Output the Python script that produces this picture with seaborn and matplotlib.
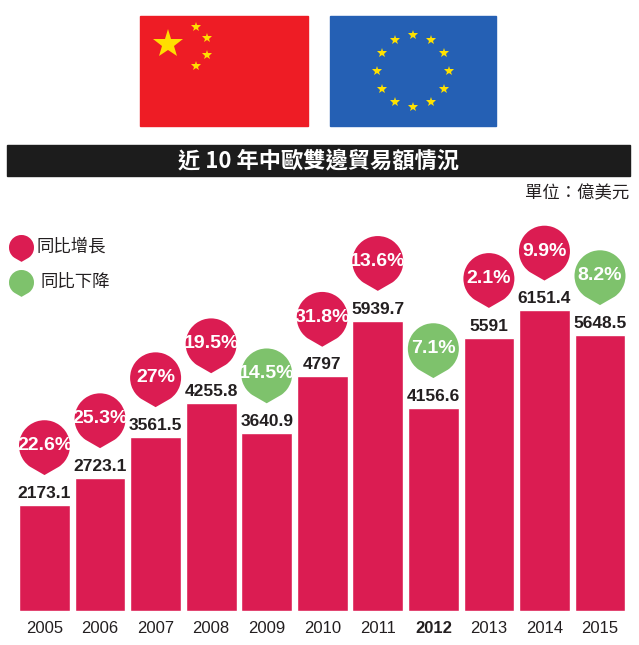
import numpy as np
import matplotlib
matplotlib.use("Agg")
import matplotlib.pyplot as plt
import seaborn as sns
import pandas as pd
from matplotlib.path import Path
from matplotlib.patches import Rectangle

# 資料
years = ["2005", "2006", "2007", "2008", "2009", "2010",
         "2011", "2012", "2013", "2014", "2015"]
trade = [2173.1, 2723.1, 3561.5, 4255.8, 3640.9, 4797,
         5939.7, 4156.6, 5591, 6151.4, 5648.5]
growth = [22.6, 25.3, 27, 19.5, -14.5, 31.8, 13.6, -7.1, 2.1, 9.9, -8.2]

title = "近 10 年中歐雙邊貿易額情況"
unit = "單位：億美元"
legend_labels = ["同比增長", "同比下降"]

RED = "#DB1C52"
GREEN = "#7EC26C"
DARK = "#231F20"

sns.set_style("white")
plt.rcParams["font.family"] = ["Liberation Sans", "Noto Sans CJK TC", "DejaVu Sans"]
CJK = ["Noto Sans CJK TC", "DejaVu Sans"]

W, H = 639, 645
fig = plt.figure(figsize=(W / 100, H / 100), dpi=100)

# 背景層：國旗、標題、圖例（像素座標）
bg = fig.add_axes([0, 0, 1, 1])
bg.set_xlim(0, W)
bg.set_ylim(H, 0)
bg.axis("off")

# 中國國旗
fx, fy, fw, fh = 140, 16, 168, 110
bg.add_patch(Rectangle((fx, fy), fw, fh, color="#EE1C25"))
u = fh / 20
bg.plot(fx + 5 * u * 1.02, fy + 5 * u, marker="*", color="#FFDE00",
        markersize=22, markeredgewidth=0)
for sx, sy in [(10, 2), (12, 4), (12, 7), (10, 9)]:
    bg.plot(fx + sx * u * 1.02, fy + sy * u, marker="*", color="#FFDE00",
            markersize=7.5, markeredgewidth=0)

# 歐盟旗
ex, ey, ew, eh = 330, 16, 166, 110
bg.add_patch(Rectangle((ex, ey), ew, eh, color="#2560B4"))
cx, cy = ex + ew / 2, ey + eh / 2
for k in range(12):
    a = np.pi / 2 - k * np.pi / 6
    bg.plot(cx + 36 * np.cos(a), cy - 36 * np.sin(a), marker="*",
            color="#FFE100", markersize=7.5, markeredgewidth=0)

# 標題條
bg.add_patch(Rectangle((7, 145), 623, 31, color="#1C1C1C"))
bg.text(319, 161, title, color="white", fontsize=16, fontweight="bold",
        ha="center", va="center", family=CJK)
bg.text(629, 193, unit, color=DARK, fontsize=12.5, ha="right", va="center",
        family=CJK)

# 水滴形標記
tip = 1.15
arc = Path.arc(-55, 235)
verts = np.vstack([arc.vertices, [[0, -tip], [0, -tip]]])
codes = np.concatenate([arc.codes, [Path.LINETO, Path.CLOSEPOLY]])
pin = Path(verts, codes)

def pin_size(radius_px):
    return (radius_px * 0.72 * 2 * tip) ** 2

# 圖例
for (lab, col, ly, lx) in [(legend_labels[0], RED, 247, 37),
                            (legend_labels[1], GREEN, 282, 40)]:
    bg.scatter([20.5], [ly], marker=pin, s=pin_size(12.5), color=col,
               linewidths=0)
    bg.text(lx, ly, lab, fontsize=12.5, color=DARK, va="center", family=CJK)

# 主圖：柱狀圖
base_px = 611
top_px = 200
ppu = 0.0489   # 每單位像素
ax = fig.add_axes([0, (H - base_px) / H, 1, (base_px - top_px) / H])
ax.patch.set_alpha(0)

df = pd.DataFrame({"year": years, "trade": trade, "growth": growth})
df["trend"] = np.where(df["growth"] >= 0, "up", "down")

sns.barplot(data=df, x="year", y="trade", color=RED, saturation=1,
            width=0.913, ax=ax)

pitch = 55.55
ax.set_xlim(-44.5 / pitch, (W - 44.5) / pitch)
ax.set_ylim(0, (base_px - top_px) / ppu)

# 數值標籤
for i, v in enumerate(df["trade"]):
    ax.annotate(f"{v:g}", (i, v), xytext=(0, 4), textcoords="offset pixels",
                ha="center", va="bottom", fontsize=12.5, fontweight="bold",
                color=DARK)

# 同比變化標記
df["pin_y"] = df["trade"] + 59 / ppu
sns.scatterplot(data=df, x=np.arange(len(df)), y="pin_y", hue="trend",
                palette={"up": RED, "down": GREEN}, marker=pin,
                s=pin_size(25.5), linewidth=0, legend=False, ax=ax)
for i, (g, py) in enumerate(zip(df["growth"], df["pin_y"])):
    ax.text(i, py, f"{abs(g):g}%", color="white", fontsize=14,
            fontweight="bold", ha="center", va="center")

ax.set_xlabel("")
ax.set_ylabel("")
ax.set_yticks([])
sns.despine(ax=ax, left=True, bottom=True)
ax.tick_params(axis="x", length=0, pad=7, labelsize=12, labelcolor=DARK)
for t in ax.get_xticklabels():
    if t.get_text() == "2012":
        t.set_fontweight("bold")

fig.savefig("out.png", dpi=100, facecolor="white")
